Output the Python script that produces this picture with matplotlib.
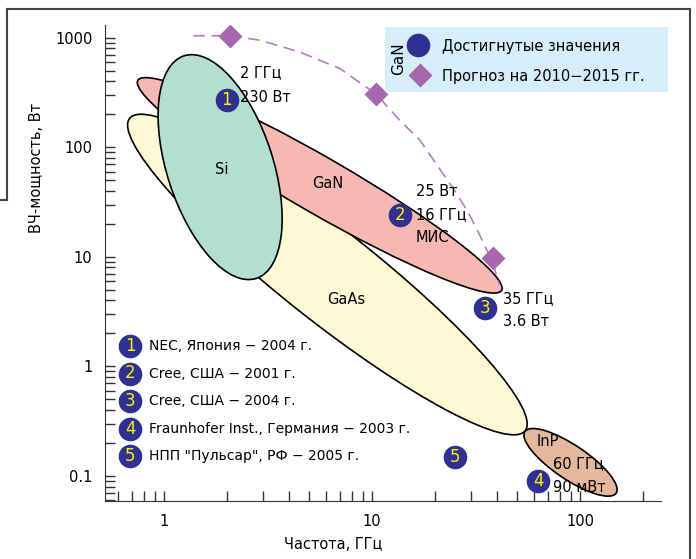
import matplotlib
matplotlib.use('Agg')
import matplotlib.pyplot as plt
from matplotlib.patches import Ellipse, Rectangle
from matplotlib.lines import Line2D
from matplotlib.transforms import ScaledTranslation
from matplotlib.ticker import LogLocator, FuncFormatter

plt.rcParams['font.family'] = ['DejaVu Sans']

# Области технологий: центр (ГГц, Вт), размеры (дюймы), угол
oblasti = ['GaAs', 'GaN', 'Si', 'InP']
centr_f = [6.1, 5.6, 1.86, 90]
centr_p = [6.9, 45, 66, 0.133]
shirina = [5.04, 4.20, 2.34, 1.10]
vysota = [0.92, 0.56, 1.06, 0.34]
ugol = [-38.3, -30, -72, -34]
cveta = ['#FFF8D4', '#F7B8B3', '#B4DECF', '#E3B89C']

# Достигнутые значения (номера 1-5)
dost_f = [2.0, 13.6, 35, 63, 25]
dost_p = [270, 24, 3.4, 0.09, 0.15]
nomera = ['1', '2', '3', '4', '5']

# Прогноз на 2010-2015 гг.
progn_f = [2.08, 10.5, 38]
progn_p = [1050, 305, 9.7]
kriv_f = [1.38, 2.08, 2.9, 4.5, 7.0, 10.5, 13.6, 17, 25, 29, 33, 38, 41]
kriv_p = [1045, 1045, 950, 740, 525, 305, 176, 116, 40, 25.5, 15.7, 8.9, 5.5]

spisok = ['NEC, Япония − 2004 г.', 'Cree, США − 2001 г.', 'Cree, США − 2004 г.',
          'Fraunhofer Inst., Германия − 2003 г.', 'НПП "Пульсар", РФ − 2005 г.']

W, H = 696, 559
fig = plt.figure(figsize=(W / 100, H / 100), dpi=100)
ax = fig.add_axes([105 / W, 1 - 501 / H, 556 / W, 476 / H])
ax.set_xscale('log')
ax.set_yscale('log')
ax.set_xlim(0.52, 245)
ax.set_ylim(0.059, 1310)

def fpx(x, y):
    return x / W, 1 - y / H

# эллипсы
for i in range(len(oblasti)):
    tr = fig.dpi_scale_trans + ScaledTranslation(centr_f[i], centr_p[i], ax.transData)
    e = Ellipse((0, 0), shirina[i], vysota[i], angle=ugol[i], transform=tr,
                facecolor=cveta[i], edgecolor='black', lw=1.2, zorder=2 + i * 0.1)
    ax.add_patch(e)

ax.plot(kriv_f, kriv_p, color='#B57BC0', lw=1.2, dashes=(7, 4), zorder=3)
ax.plot(progn_f, progn_p, 'D', color='#A866AC', ms=12, mec='none', zorder=4)

for f, p, n in zip(dost_f, dost_p, nomera):
    ax.plot(f, p, 'o', color='#2E3192', ms=17, mec='none', zorder=5)
    ax.text(f, p, n, color='#FFF200', fontsize=12, ha='center', va='center', zorder=6)

# подписи
podp = [(240, 73, '2 ГГц', 'left'), (240, 98, '230 Вт', 'left'),
        (222, 170, 'Si', 'center'), (328, 183, 'GaN', 'center'),
        (416, 192, '25 Вт', 'left'), (416, 215, '16 ГГц', 'left'),
        (416, 238, 'МИС', 'left'), (346, 300, 'GaAs', 'center'),
        (503, 299, '35 ГГц', 'left'), (503, 322, '3.6 Вт', 'left'),
        (537, 442, 'InP', 'left'), (553, 464, '60 ГГц', 'left'),
        (553, 487, '90 мВт', 'left')]
for x, y, t, ha in podp:
    fig.text(*fpx(x, y), t, fontsize=10.5, ha=ha, va='center', zorder=7)

# список
for k, t in enumerate(spisok):
    y = 346 + k * 27.5
    fig.add_artist(Line2D([130 / W], [1 - y / H], marker='o', color='#2E3192',
                          ms=17, mec='none', transform=fig.transFigure))
    fig.text(*fpx(130, y), nomera[k], color='#FFF200', fontsize=12, ha='center', va='center')
    fig.text(*fpx(149, y), t, fontsize=10, ha='left', va='center')

# легенда
fig.add_artist(Rectangle(fpx(385, 92), 283 / W, 65 / H, transform=fig.transFigure,
                         facecolor='#D5EEF9', edgecolor='none', zorder=3))
fig.text(*fpx(399, 59), 'GaN', rotation=90, fontsize=11, ha='center', va='center', zorder=4)
fig.add_artist(Line2D([418 / W], [1 - 45 / H], marker='o', color='#2E3192', ms=17,
                      mec='none', transform=fig.transFigure, zorder=4))
fig.add_artist(Line2D([420 / W], [1 - 75 / H], marker='D', color='#A866AC', ms=12,
                      mec='none', transform=fig.transFigure, zorder=4))
fig.text(*fpx(442, 46), 'Достигнутые значения', fontsize=10.5, ha='left', va='center', zorder=4)
fig.text(*fpx(442, 76), 'Прогноз на 2010−2015 гг.', fontsize=10.5, ha='left', va='center', zorder=4)

# оси
for s in ['top', 'right']:
    ax.spines[s].set_visible(False)
for s in ['left', 'bottom']:
    ax.spines[s].set_color('#333333')
ax.tick_params(which='both', direction='in', length=7, width=1, color='#333333',
               labelsize=10.5)
ax.xaxis.set_major_locator(LogLocator(base=10))
ax.yaxis.set_major_locator(LogLocator(base=10))
fmt = FuncFormatter(lambda v, pos: '%g' % v)
ax.xaxis.set_major_formatter(fmt)
ax.yaxis.set_major_formatter(fmt)
ax.tick_params(axis='x', pad=9)
ax.tick_params(axis='y', pad=9)
ax.set_xlabel('Частота, ГГц', fontsize=10.5)
ax.set_ylabel('ВЧ-мощность, Вт', fontsize=10.5)
ax.xaxis.set_label_coords(0.41, -0.075)
ax.yaxis.set_label_coords(-0.11, 0.7)

# рамка страницы
rk = dict(color='#444444', lw=1.5, transform=fig.transFigure)
fig.add_artist(Line2D([7 / W, 690 / W], [1 - 9 / H, 1 - 9 / H], **rk))
fig.add_artist(Line2D([7 / W, 7 / W], [1 - 9 / H, 1 - 200 / H], **rk))
fig.add_artist(Line2D([0, 7 / W], [1 - 200 / H, 1 - 200 / H], **rk))
fig.add_artist(Line2D([690 / W, 690 / W], [1 - 9 / H, 0], **rk))

fig.savefig('out.png', dpi=100)
